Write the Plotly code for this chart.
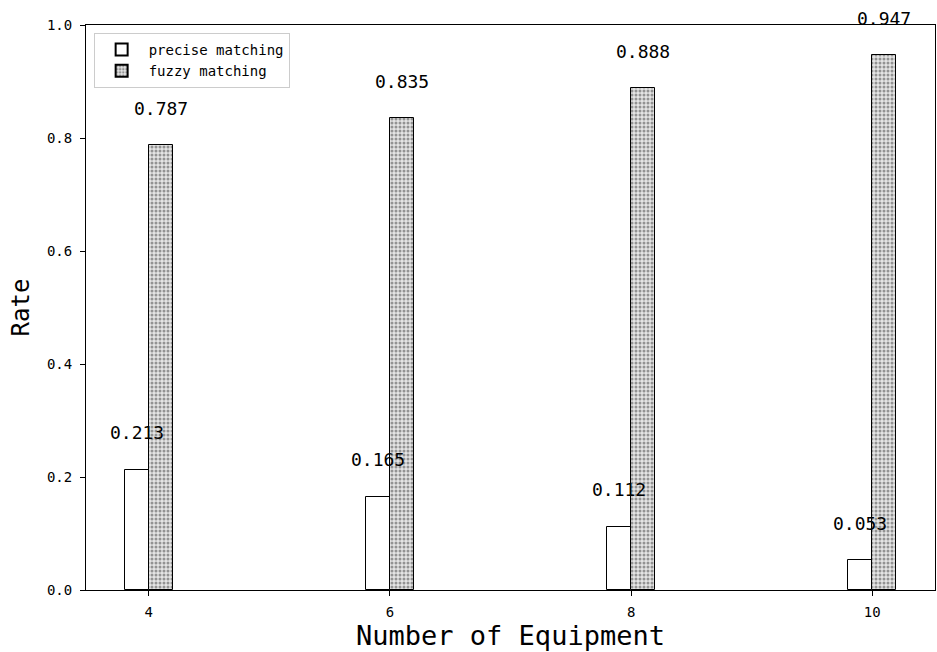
import plotly.graph_objects as go

equipment = [4, 6, 8, 10]
precise = [0.213, 0.165, 0.112, 0.053]
fuzzy = [0.787, 0.835, 0.888, 0.947]
x_ticks = [4, 6, 8, 10]
y_ticks = [0.0, 0.2, 0.4, 0.6, 0.8, 1.0]

MONO = "DejaVu Sans Mono"
BAR_W = 0.2

fig = go.Figure()
fig.add_trace(go.Bar(
    x=equipment, y=precise, width=BAR_W, offset=-BAR_W,
    name="precise matching",
    marker=dict(color="white", line=dict(color="black", width=1)),
))
fig.add_trace(go.Bar(
    x=equipment, y=fuzzy, width=BAR_W, offset=0,
    name="fuzzy matching",
    marker=dict(
        color="white",
        line=dict(color="black", width=1),
        pattern=dict(shape=".", fgcolor="#404040", bgcolor="#e4e4e4",
                     size=4, solidity=0.45),
    ),
))

# value labels just above each bar
for vals, shift in ((precise, -BAR_W / 2), (fuzzy, BAR_W / 2)):
    for x, v in zip(equipment, vals):
        fig.add_annotation(
            x=x + shift, y=v + 0.043, text=f"{v:.3f}", showarrow=False,
            xanchor="center", yanchor="bottom",
            font=dict(family=MONO, size=18, color="black"),
        )

fig.update_layout(
    width=937, height=652,
    margin=dict(l=86, r=2, t=25, b=62),
    plot_bgcolor="white", paper_bgcolor="white",
    barmode="overlay", bargap=0,
    showlegend=True,
    legend=dict(
        x=0.009, y=0.986, xanchor="left", yanchor="top",
        bgcolor="rgba(255,255,255,0.9)", bordercolor="#cccccc", borderwidth=1,
        font=dict(family=MONO, size=14, color="black"),
        itemsizing="constant", itemwidth=44, tracegroupgap=0,
    ),
    xaxis=dict(
        range=[3.48, 10.52], tickvals=x_ticks, ticktext=[str(t) for t in x_ticks],
        showline=True, linecolor="black", linewidth=1, mirror=True,
        ticks="outside", ticklen=5, tickcolor="black", showgrid=False, zeroline=False,
        ticklabelstandoff=4,
        tickfont=dict(family=MONO, size=14, color="black"),
        title=dict(text="Number of Equipment", standoff=6,
                   font=dict(family=MONO, size=27, color="black")),
    ),
    yaxis=dict(
        range=[0, 1.0], tickvals=y_ticks, ticktext=[f"{t:.1f}" for t in y_ticks],
        showline=True, linecolor="black", linewidth=1, mirror=True,
        ticks="outside", ticklen=5, tickcolor="black", showgrid=False, zeroline=False,
        ticklabelstandoff=5,
        tickfont=dict(family=MONO, size=14, color="black"),
        title=dict(text="Rate", standoff=10,
                   font=dict(family=MONO, size=24, color="black")),
    ),
)

fig.write_html("out.html")
